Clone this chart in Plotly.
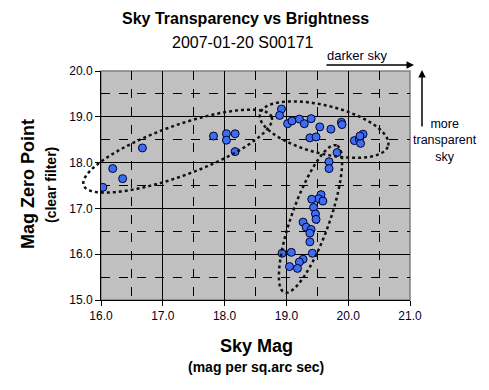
import numpy as np
import plotly.graph_objects as go

# ---- data ----
sky_mag = [16.03, 16.19, 16.35, 16.67, 17.82, 18.03, 18.03, 18.17, 18.17,
           18.92, 18.89, 19.02, 19.09, 19.21, 19.29, 19.40, 19.54, 19.72, 19.89, 19.90,
           19.38, 19.48, 20.10, 20.18, 20.24, 20.20, 20.19, 19.82, 19.69, 19.69,
           19.56, 19.52, 19.59, 19.41, 19.44, 19.47, 19.48, 19.27, 19.32, 19.40,
           19.38, 19.38, 18.93, 19.08, 19.42, 19.27, 19.21, 19.05, 19.18]
mag_zero = [17.46, 17.87, 17.65, 18.32, 18.58, 18.63, 18.49, 18.63, 18.24,
            19.17, 19.03, 18.85, 18.91, 18.95, 18.85, 18.96, 18.78, 18.73, 18.88, 18.83,
            18.54, 18.56, 18.48, 18.51, 18.62, 18.42, 18.58, 18.22, 18.02, 17.87,
            17.30, 17.21, 17.16, 17.20, 17.02, 16.88, 16.76, 16.70, 16.59, 16.54,
            16.46, 16.27, 16.02, 16.04, 16.02, 15.89, 15.83, 15.73, 15.69]

x_ticks = [16.0, 17.0, 18.0, 19.0, 20.0, 21.0]
y_ticks = [15.0, 16.0, 17.0, 18.0, 19.0, 20.0]

# ellipses grouping the clusters: centre (data), semi-axes (px), angle (deg)
ellipse_centres = [(17.24, 18.25), (19.61, 18.72), (19.39, 16.77)]
ellipse_axes_px = [(100, 25), (66, 24), (78, 19)]
ellipse_angles = [20, -14, 70.5]

# ---- layout geometry ----
W, H = 489, 390
ml, mr, mt, mb = 101, 79, 71, 90
pw, ph = W - ml - mr, H - mt - mb
xr, yr = (16.0, 21.0), (15.0, 20.0)
sx = pw / (xr[1] - xr[0])
sy = ph / (yr[1] - yr[0])

fig = go.Figure()

fig.add_trace(go.Scatter(x=sky_mag, y=mag_zero, mode="markers",
                         marker=dict(symbol="circle", size=8, color="#3d6ef2",
                                     line=dict(color="#000033", width=1)),
                         showlegend=False))

axis_common = dict(showgrid=True, gridcolor="black", gridwidth=1,
                   showline=True, linecolor="black", linewidth=1,
                   ticks="outside", ticklen=5, tickcolor="black",
                   tickformat=".1f", zeroline=False,
                   tickfont=dict(family="Arial, Liberation Sans", size=12, color="#000020"),
                   minor=dict(dtick=0.5, showgrid=True, gridcolor="black",
                              griddash="dash", gridwidth=1, ticks=""))

fig.update_xaxes(range=list(xr), tickvals=x_ticks, **axis_common)
fig.update_yaxes(range=list(yr), tickvals=y_ticks, **axis_common)

fig.add_shape(type="rect", xref="paper", yref="paper", x0=0, y0=0, x1=1, y1=1,
              line=dict(color="#808080", width=1.5), layer="below")

# ellipses as paper-referenced paths (not clipped by the plot area)
t = np.linspace(0, 2 * np.pi, 240)
for (cx, cy), (a, b), ang in zip(ellipse_centres, ellipse_axes_px, ellipse_angles):
    th = np.radians(ang)
    u = a * np.cos(t) * np.cos(th) - b * np.sin(t) * np.sin(th)
    v = a * np.cos(t) * np.sin(th) + b * np.sin(t) * np.cos(th)
    px_ = ((cx - xr[0]) * sx + u) / pw
    py_ = ((cy - yr[0]) * sy + v) / ph
    path = "M " + " L ".join(f"{p:.5f},{q:.5f}" for p, q in zip(px_, py_)) + " Z"
    fig.add_shape(type="path", xref="paper", yref="paper", path=path,
                  line=dict(color="#111111", width=2.5, dash="dot"), layer="above")

def px2paper(px, py):
    return (px - ml) / pw, (H - mb - py) / ph

ann = []
f = "Arial, Liberation Sans"
x, y = px2paper(245, 18)
ann.append(dict(x=x, y=y, text="<b>Sky Transparency vs Brightness</b>",
                font=dict(family=f, size=16, color="black")))
x, y = px2paper(243, 42)
ann.append(dict(x=x, y=y, text="2007-01-20 S00171", font=dict(family=f, size=16, color="black")))
x, y = px2paper(256, 346)
ann.append(dict(x=x, y=y, text="<b>Sky Mag</b>", font=dict(family=f, size=18, color="black")))
x, y = px2paper(256, 367)
ann.append(dict(x=x, y=y, text="<b>(mag per sq.arc sec)</b>", font=dict(family=f, size=14, color="black")))
x, y = px2paper(28, 184)
ann.append(dict(x=x, y=y, text="<b>Mag Zero Point</b>", textangle=-90,
                font=dict(family=f, size=18, color="black")))
x, y = px2paper(51, 185)
ann.append(dict(x=x, y=y, text="<b>(clear filter)</b>", textangle=-90,
                font=dict(family=f, size=14, color="black")))
x, y = px2paper(357, 55)
ann.append(dict(x=x, y=y, text="darker sky", font=dict(family=f, size=13, color="#000020")))
x, y = px2paper(445, 140)
ann.append(dict(x=x, y=y, text="more<br>transparent<br>sky", align="center",
                font=dict(family=f, size=12.5, color="#000020")))
for a_ in ann:
    a_.update(xref="paper", yref="paper", showarrow=False, xanchor="center", yanchor="middle")

x, y = px2paper(414, 65)
ann.append(dict(x=x, y=y, xref="paper", yref="paper", ax=-89, ay=0, text="",
                showarrow=True, arrowhead=2, arrowsize=1, arrowwidth=1.5, arrowcolor="black"))
x, y = px2paper(422, 70)
ann.append(dict(x=x, y=y, xref="paper", yref="paper", ax=0, ay=58, text="",
                showarrow=True, arrowhead=2, arrowsize=1, arrowwidth=1.5, arrowcolor="black"))

fig.update_layout(width=W, height=H, margin=dict(l=ml, r=mr, t=mt, b=mb),
                  paper_bgcolor="white", plot_bgcolor="#c0c0c0",
                  annotations=ann, showlegend=False)

fig.write_html("out.html", config={"displayModeBar": False},
               post_script="document.body.style.margin='0';document.body.style.overflow='hidden';")
